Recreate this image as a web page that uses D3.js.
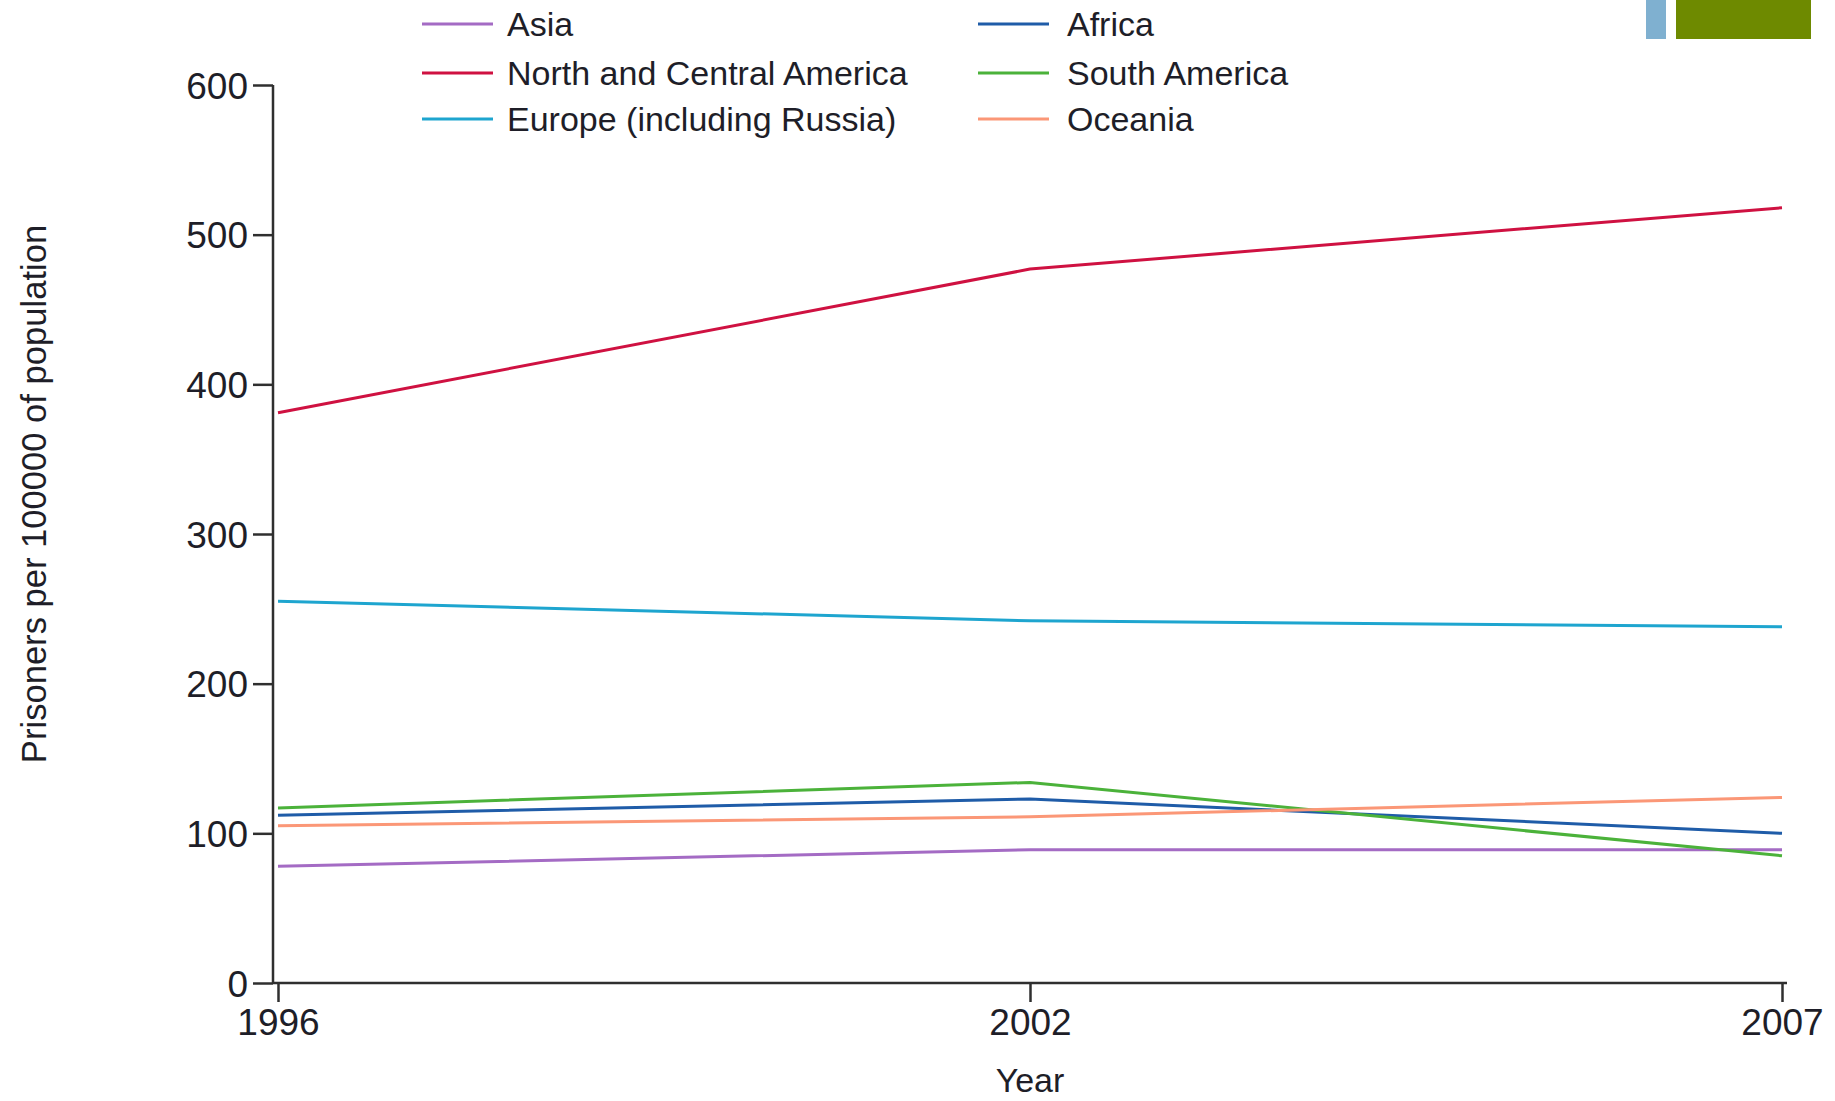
<!DOCTYPE html>
<html>
<head>
<meta charset="utf-8">
<script src="https://cdn.jsdelivr.net/npm/d3@7"></script>
<style>
  html, body { margin: 0; padding: 0; background: #fff; }
  svg { display: block; font-family: "Liberation Sans", Arial, sans-serif; }
</style>
</head>
<body>
<svg id="chart" width="1835" height="1101"></svg>
<script>
// ---- data ----
const years = ["1996", "2002", "2007"];
const yTicks = [0, 100, 200, 300, 400, 500, 600];
const seriesNames = ["Asia", "Africa", "North and Central America", "South America", "Europe (including Russia)", "Oceania"];
const asia = [78, 89, 89];
const africa = [112, 123, 100];
const northCentralAmerica = [381, 477, 518];
const southAmerica = [117, 134, 85];
const europe = [255, 242, 238];
const oceania = [105, 111, 124];
const seriesColors = ["#a46bc4", "#1f5ca8", "#cf1141", "#4bb23a", "#1ea5cf", "#fb9777"];
const yAxisTitle = "Prisoners per 100000 of population";
const xAxisTitle = "Year";

const seriesValues = [asia, africa, northCentralAmerica, southAmerica, europe, oceania];
const series = seriesNames.map((n, i) => ({ name: n, values: seriesValues[i], color: seriesColors[i] }));

const svg = d3.select("#chart");
const textColor = "#1e1e28";
const axisColor = "#2f2f2f";

const axisX = 273;
const x = d3.scalePoint().domain(years).range([278, 1782]);
const y = d3.scaleLinear().domain([0, 600]).range([983, 85]);

// top-right decorative blocks
svg.append("rect").attr("x", 1646).attr("y", 0).attr("width", 20).attr("height", 39).attr("fill", "#7fb0d0");
svg.append("rect").attr("x", 1676).attr("y", 0).attr("width", 135).attr("height", 39).attr("fill", "#6e8a00");

// y axis
const yAxisG = svg.append("g").attr("transform", `translate(${axisX},0)`)
  .call(d3.axisLeft(y).tickValues(yTicks).tickSize(20).tickPadding(5).tickSizeOuter(0));
yAxisG.select(".domain").remove();
yAxisG.selectAll(".tick line").attr("stroke", axisColor).attr("stroke-width", 2.5);
yAxisG.selectAll(".tick text").attr("fill", textColor).style("font-size", "37px").attr("dy", "0.36em");
svg.append("line").attr("x1", axisX).attr("x2", axisX).attr("y1", y(600)).attr("y2", y(0))
  .attr("stroke", axisColor).attr("stroke-width", 2.5);

// x axis
const xAxisG = svg.append("g").attr("transform", `translate(0,${y(0)})`)
  .call(d3.axisBottom(x).tickSize(19).tickPadding(7).tickSizeOuter(0));
xAxisG.select(".domain").remove();
xAxisG.selectAll(".tick line").attr("stroke", axisColor).attr("stroke-width", 2.5);
xAxisG.selectAll(".tick text").attr("fill", textColor).style("font-size", "37px");
svg.append("line").attr("x1", axisX).attr("x2", x("2007") + 5).attr("y1", y(0)).attr("y2", y(0))
  .attr("stroke", axisColor).attr("stroke-width", 2.5);

// axis titles
svg.append("text").attr("transform", `translate(46,${(y(0) + y(600)) / 2 - 40}) rotate(-90)`)
  .attr("text-anchor", "middle").attr("fill", textColor).style("font-size", "34.6px").text(yAxisTitle);
svg.append("text").attr("x", x("2002")).attr("y", 1092)
  .attr("text-anchor", "middle").attr("fill", textColor).style("font-size", "34px").text(xAxisTitle);

// lines
const line = d3.line().x((d, i) => x(years[i])).y(d => y(d));
svg.append("g").selectAll("path").data(series).join("path")
  .attr("d", d => line(d.values))
  .attr("fill", "none").attr("stroke", d => d.color).attr("stroke-width", 3)
  .attr("stroke-linejoin", "round");

// legend
const legendPos = [
  { lx: 422, ly: 24, tx: 85 }, { lx: 978, ly: 24, tx: 89 },
  { lx: 422, ly: 73, tx: 85 }, { lx: 978, ly: 73, tx: 89 },
  { lx: 422, ly: 119, tx: 85 }, { lx: 978, ly: 119, tx: 89 }
];
const lg = svg.append("g").selectAll("g").data(series).join("g")
  .attr("transform", (d, i) => `translate(${legendPos[i].lx},${legendPos[i].ly})`);
lg.append("line").attr("x1", 0).attr("x2", 71).attr("y1", 0).attr("y2", 0)
  .attr("stroke", d => d.color).attr("stroke-width", 3);
lg.append("text").attr("x", (d, i) => legendPos[i].tx).attr("dy", "0.35em").attr("fill", textColor)
  .style("font-size", "34px").text(d => d.name);
</script>
</body>
</html>
